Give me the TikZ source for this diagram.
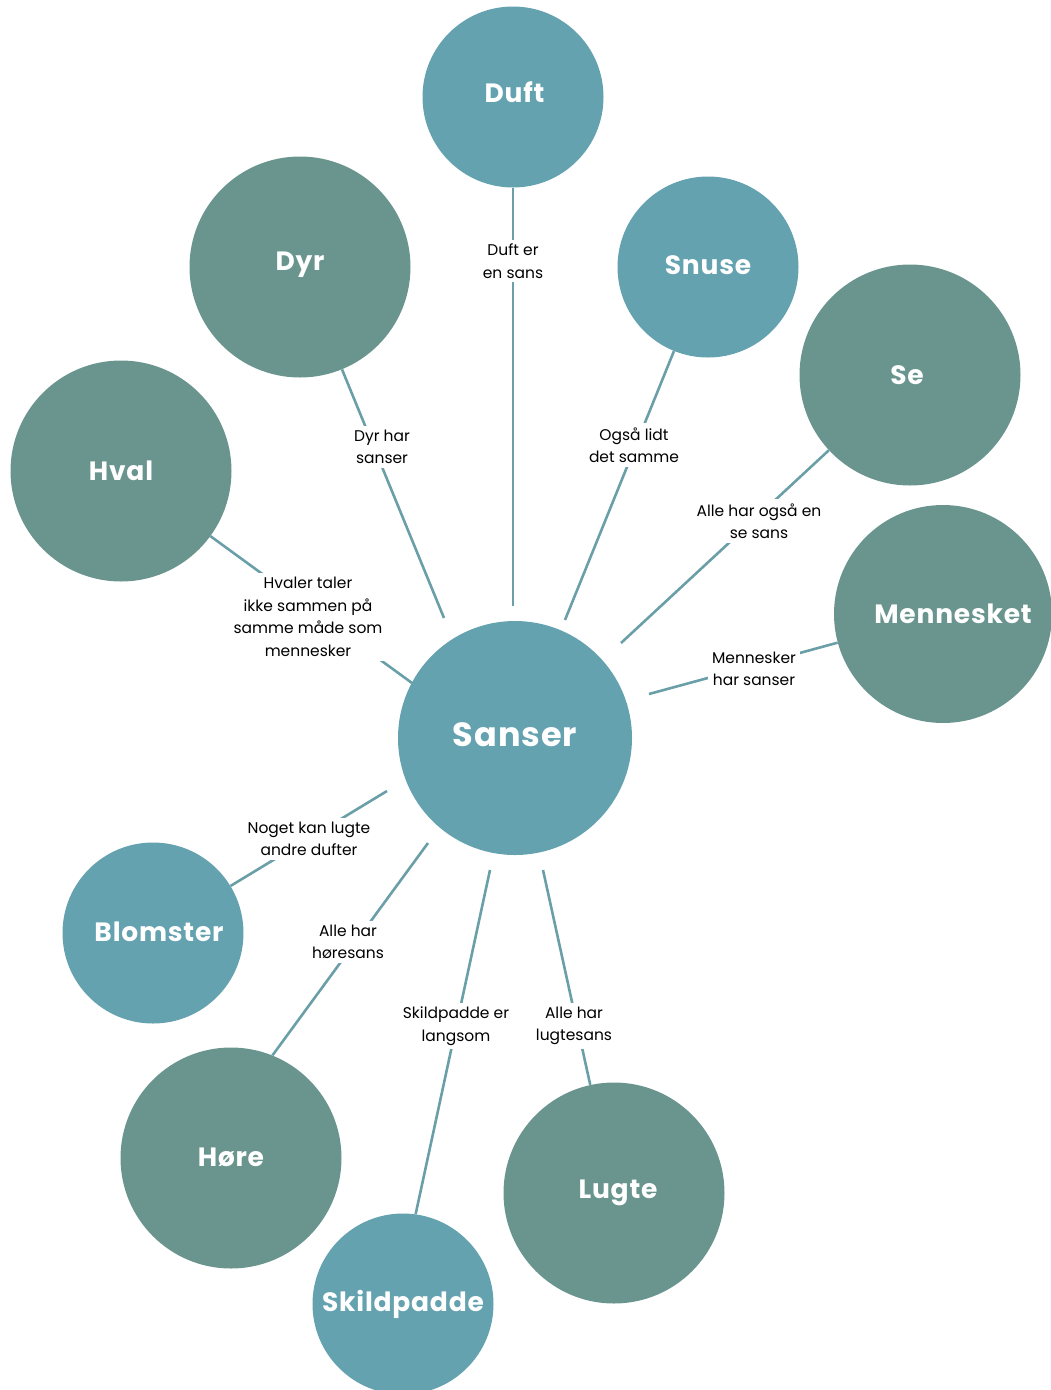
\documentclass[tikz,border=0pt]{standalone}
\usepackage{fontspec}
\setmainfont{Poppins}
\newfontfamily\titlefont{Poppins}[LetterSpace=3]
\definecolor{teal1}{HTML}{65A2B0}
\definecolor{sage}{HTML}{6A958F}
\definecolor{linec}{HTML}{6A9FA8}
\begin{document}
\begin{tikzpicture}[x=1pt,y=-1pt,
  bubble/.style={circle,inner sep=0pt,text=white,font=\titlefont\bfseries\fontsize{26.5}{30}\selectfont},
  tealb/.style={bubble,fill=teal1},
  sageb/.style={bubble,fill=sage},
  conn/.style={draw=linec,line width=2.6pt},
  lbl/.style={fill=white,align=center,inner sep=4pt,font=\fontsize{15.5}{22.5}\selectfont,text=black}]
\useasboundingbox (0,0) rectangle (1051,1390);
% bubbles
\node[tealb,minimum size=234pt,font=\titlefont\bfseries\fontsize{33.5}{36}\selectfont] (sanser) at (515,738) {\raisebox{7pt}{Sanser}};
\node[tealb,minimum size=181pt] (duft) at (513,97) {\hspace*{3pt}\raisebox{10pt}{Duft}};
\node[sageb,minimum size=221pt] (dyr) at (300,267) {\raisebox{11pt}{Dyr}};
\node[tealb,minimum size=181pt] (snuse) at (708,267) {\raisebox{3pt}{Snuse}};
\node[sageb,minimum size=221pt] (se) at (910,375) {\hspace*{-6pt}Se};
\node[sageb,minimum size=221pt] (hval) at (121,471) {Hval};
\node[sageb,minimum size=218pt] (menn) at (943,614) {\hspace*{20pt}Mennesket};
\node[tealb,minimum size=181pt] (blom) at (153,933) {\hspace*{12pt}\raisebox{2pt}{Blomster}};
\node[sageb,minimum size=221pt] (hoere) at (231,1158) {\raisebox{1pt}{Høre}};
\node[tealb,minimum size=181pt] (skild) at (403,1304) {\raisebox{-5pt}{Skildpadde}};
\node[sageb,minimum size=221pt] (lugte) at (614,1193) {\hspace*{8pt}\raisebox{3pt}{Lugte}};
% free ends near the centre
\coordinate (duftE) at (513,606);
\coordinate (dyrE) at (444,618);
\coordinate (snuseE) at (565,620);
\coordinate (seE) at (621,643);
\coordinate (hvalE) at (412,683);
\coordinate (mennE) at (649,694);
\coordinate (blomE) at (387,791);
\coordinate (hoereE) at (428,843);
\coordinate (skildE) at (490,870);
\coordinate (lugteE) at (543,870);
% connectors
\draw[conn] (duft) -- (duftE);
\draw[conn] (dyr) -- (dyrE);
\draw[conn] (snuse) -- (snuseE);
\draw[conn] (se) -- (seE);
\draw[conn] (hval) -- (hvalE);
\draw[conn] (menn) -- (mennE);
\draw[conn] (blom) -- (blomE);
\draw[conn] (hoere.68) -- (hoereE);
\draw[conn] (skild.82) -- (skildE);
\draw[conn] (lugte) -- (lugteE);
% labels
\node[lbl] (lduft) at (513,261) {Duft er\\en sans};
\node[lbl] (ldyr) at (382,447) {Dyr har\\sanser};
\node[lbl] (lsnuse) at (634,445) {Også lidt\\det samme};
\node[lbl] (lse) at (759,521) {Alle har også en\\se sans};
\node[lbl] (lhval) at (308,617) {Hvaler taler\\ikke sammen på\\samme måde som\\mennesker};
\node[lbl] (lmenn) at (754,669) {Mennesker\\har sanser};
\node[lbl] (lblom) at (309,839) {Noget kan lugte\\andre dufter};
\node[lbl] (lhoere) at (348,942) {Alle har\\høresans};
\node[lbl] (lskild) at (456,1026) {Skildpadde er\\langsom};
\node[lbl] (llugte) at (574,1026) {Alle har\\lugtesans};
\end{tikzpicture}
\end{document}
